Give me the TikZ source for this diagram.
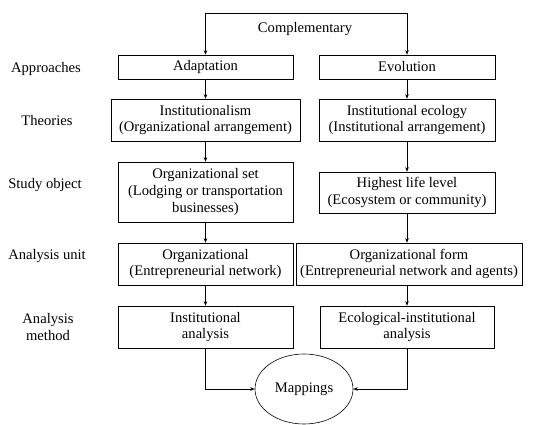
\documentclass[tikz,border=0pt]{standalone}
\usepackage{fontspec}
\setmainfont{Liberation Serif}
\usetikzlibrary{arrows.meta,shapes.geometric}
\begin{document}
\begin{tikzpicture}[x=1pt,y=-1pt,
  every node/.style={font=\fontsize{14.6}{16.8}\selectfont},
  box/.style={draw,line width=0.6pt,align=center,inner sep=1pt},
  lab/.style={align=center,inner sep=0pt},
  arr/.style={line width=0.6pt,-{Stealth[length=4.5pt,width=3.5pt]}},
  ln/.style={line width=0.6pt}]
\useasboundingbox (0,0) rectangle (556,425);
% row labels
\node[lab] (l1) at (46,69) {Approaches};
\node[lab] (l2) at (47,121) {Theories};
\node[lab] (l3) at (45,185) {Study object};
\node[lab] (l4) at (47,256) {Analysis unit};
\node[lab] (l5) at (48,327) {Analysis\\method};
% boxes
\node[box,minimum width=175pt,minimum height=24pt] (al) at (205.5,67) {Adaptation};
\node[box,minimum width=176pt,minimum height=24pt] (ar) at (407,67) {Evolution};
\node[box,minimum width=189pt,minimum height=42pt] (tl) at (205.5,120) {Institutionalism\\(Organizational arrangement)};
\node[box,minimum width=176pt,minimum height=42pt] (tr) at (407,120) {Institutional ecology\\(Institutional arrangement)};
\node[box,minimum width=175pt,minimum height=60pt] (sl) at (205.5,192) {Organizational set\\(Lodging or transportation\\businesses)};
\node[box,minimum width=176pt,minimum height=41pt] (sr) at (407,192.5) {Highest life level\\(Ecosystem or community)};
\node[box,minimum width=175pt,minimum height=42pt] (ul) at (205.5,264) {Organizational\\(Entrepreneurial network)};
\node[box,minimum width=226pt,minimum height=42pt] (ur) at (409,264) {Organizational form\\(Entrepreneurial network and agents)};
\node[box,minimum width=175pt,minimum height=42pt] (ml) at (205.5,327) {Institutional\\analysis};
\node[box,minimum width=174pt,minimum height=42pt] (mr) at (407,327) {Ecological-institutional\\analysis};
\node[draw,ellipse,line width=0.6pt,minimum width=98pt,minimum height=70pt,inner sep=0pt] (map) at (304,389) {Mappings};
% top connector
\coordinate (cl) at (205.5,13);
\coordinate (cr) at (407,13);
\node[lab] (comp) at (305,29) {Complementary};
\draw[ln] (cl) -- (cr);
\draw[arr] (cl) -- (al.north);
\draw[arr] (cr) -- (ar.north);
% vertical arrows
\draw[arr] (al.south) -- (tl.north);
\draw[arr] (ar.south) -- (tr.north);
\draw[arr] (tl.south) -- (sl.north);
\draw[arr] (tr.south) -- (sr.north);
\draw[arr] (sl.south) -- (ul.north);
\draw[arr] (sr.south) -- (sr.south |- ur.north);
\draw[arr] (ul.south) -- (ml.north);
\draw[arr] (ur.south -| mr.north) -- (mr.north);
% to mappings
\draw[arr] (ml.south) |- (map.west);
\draw[arr] (mr.south) |- (map.east);
\end{tikzpicture}
\end{document}
